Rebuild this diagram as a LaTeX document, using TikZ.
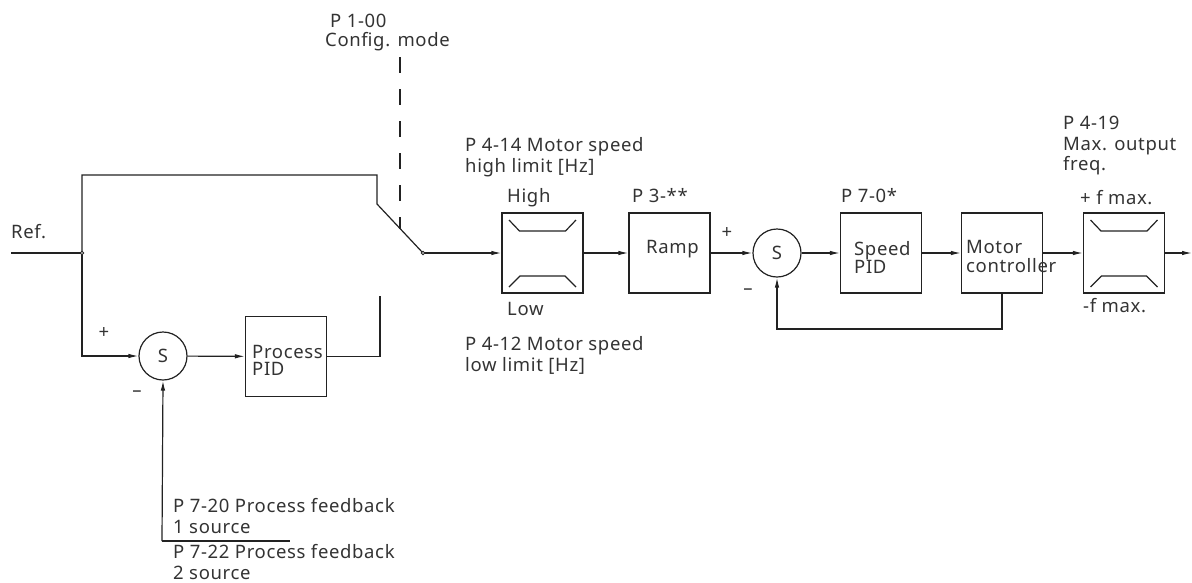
\documentclass[tikz,border=0pt]{standalone}
\usepackage{fontspec}
\setmainfont{Noto Sans}[LetterSpace=3.5]
\usetikzlibrary{arrows.meta}
\definecolor{ink}{HTML}{222222}
\definecolor{txt}{HTML}{333333}
\begin{document}
\begin{tikzpicture}[x=1pt,y=-1pt,
  every node/.style={font=\fontsize{18.5}{20}\selectfont, text=txt},
  ln/.style={draw=ink, line width=1.2pt},
  arr/.style={ln, -{Latex[length=10pt,width=4.5pt]}},
  blk/.style={draw=ink, line width=1.2pt, minimum width=81pt, minimum height=80pt, inner sep=0pt},
  sum/.style={circle, draw=ink, line width=1.2pt, minimum size=48pt, inner sep=0pt},
  lbl/.style={anchor=base west, inner sep=0pt},
  sgn/.style={inner sep=0pt, anchor=center},
  dot/.style={circle, draw=ink, fill=white, line width=0.8pt, minimum size=3.5pt, inner sep=0pt}]
\useasboundingbox (0,0) rectangle (1192,582);

% blocks
\node[sum] (s1) at (163,356) {S};
\node[blk] (pid) at (286,356.5) {};
\node[blk] (lim1) at (542.5,253) {};
\node[blk] (ramp) at (669.5,253) {};
\node[sum] (s2) at (777,253) {S};
\node[blk] (spid) at (881,253) {};
\node[blk] (mc) at (1002,253) {};
\node[blk] (lim2) at (1124,253) {};

% limiter symbols
\foreach \n in {lim1,lim2}{
  \draw[ln] ([shift={(-33.5,-33)}]\n.center) -- ([shift={(-23,-22)}]\n.center) -- ([shift={(23,-22)}]\n.center) -- ([shift={(33.5,-33)}]\n.center);
  \draw[ln] ([shift={(-33.5,34)}]\n.center) -- ([shift={(-22.5,23)}]\n.center) -- ([shift={(22.5,23)}]\n.center) -- ([shift={(33.5,34)}]\n.center);
}

% coordinates
\coordinate (refin) at (11,253);
\coordinate (j1) at (82,253);
\coordinate (ttop) at (82,175);
\coordinate (sw1) at (377,175);
\coordinate (sw2) at (377,204);
\coordinate (swo) at (423,253);
\coordinate (pidc) at (380,356.5);
\coordinate (pidt) at (380,296);
\coordinate (fb1) at (162,541);
\coordinate (fb1e) at (290,541);
\coordinate (dtop) at (400,57);
\coordinate (dbot) at (400,229);
\coordinate (mcb) at (1002,329);
\coordinate (s2b) at (777,329);
\coordinate (outend) at (1192,253);

% lines
\draw[ln] (refin) -- (j1);
\draw[ln] (j1) -- (ttop) -- (sw1) -- (sw2) -- (swo);
\draw[arr] (j1) |- (s1.west);
\draw[arr] (s1) -- (pid);
\draw[ln] (pid.east) -- (pidc) -- (pidt);
\draw[arr] (fb1) -- (s1.south);
\draw[ln] (fb1) -- (fb1e);
\draw[ln, dash pattern=on 16pt off 16pt] (dtop) -- (dbot);
\draw[arr] (swo) -- (lim1);
\draw[arr] (lim1) -- (ramp);
\draw[arr] (ramp) -- (s2);
\draw[arr] (s2) -- (spid);
\draw[arr] (spid) -- (mc);
\draw[arr] (mc) -- (lim2);
\draw[arr] (lim2) -- (outend);
\draw[arr] (mc.south) -- (mcb) -- (s2b) -- (s2.south);
\node[dot] (d1) at (j1) {};
\node[dot] (d2) at (swo) {};

% block texts
\node[lbl] (tpid) at (252,358) {Process};
\node[lbl] (tpid2) at (252,375) {PID};
\node[lbl] (tramp) at (646,253) {Ramp};
\node[lbl] (tsp) at (854,255) {Speed};
\node[lbl] (tsp2) at (854,273) {PID};
\node[lbl] (tmc) at (966,253) {Motor};
\node[lbl] (tmc2) at (966,272) {controller};

% labels
\node[lbl] (p100) at (330,27) {P 1-00};
\node[lbl] (cfg) at (325,46) {Config. mode};
\node[lbl] (ref) at (11,238) {Ref.};
\node[sgn] (pl1) at (104,333) {+};
\node[sgn] (mi1) at (137,394) {–};
\node[lbl] (p414) at (465,151) {P 4-14 Motor speed};
\node[lbl] (p414b) at (465,172) {high limit [Hz]};
\node[lbl] (hi) at (507,202) {High};
\node[lbl] (lo) at (507,315) {Low};
\node[lbl] (p412) at (465,350) {P 4-12 Motor speed};
\node[lbl] (p412b) at (465,371) {low limit [Hz]};
\node[lbl] (p3) at (632,202) {P 3-**};
\node[sgn] (pl2) at (727,233) {+};
\node[sgn] (mi2) at (748,292) {–};
\node[lbl] (p70) at (841,202) {P 7-0*};
\node[lbl] (p419) at (1063,129) {P 4-19};
\node[lbl] (p419b) at (1063,150) {Max. output};
\node[lbl] (p419c) at (1063,170) {freq.};
\node[lbl] (fmx) at (1080,204) {+ f max.};
\node[lbl] (fmn) at (1083,312) {-f max.};
\node[lbl] (p720) at (173,512) {P 7-20 Process feedback};
\node[lbl] (p720b) at (173,533) {1 source};
\node[lbl] (p722) at (173,558) {P 7-22 Process feedback};
\node[lbl] (p722b) at (173,579) {2 source};
\end{tikzpicture}
\end{document}
